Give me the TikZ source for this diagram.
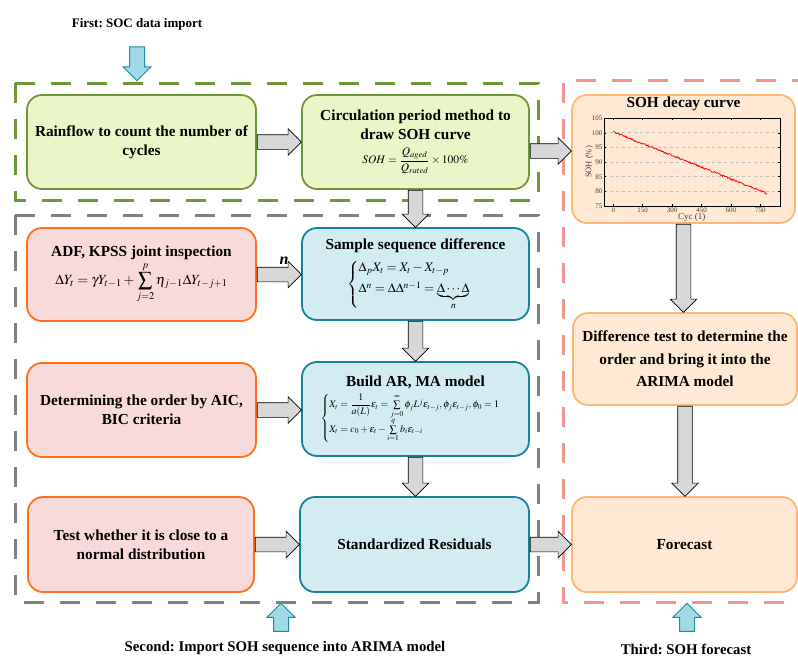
\documentclass[tikz,border=0pt]{standalone}
\usepackage{amsmath}
\usepackage{mathptmx}
\usepackage{fontspec}
\setmainfont{Liberation Serif}
\frenchspacing
\usetikzlibrary{shapes.arrows, calc}
\definecolor{greenfr}{RGB}{112,150,58}
\definecolor{greenbx}{RGB}{234,245,200}
\definecolor{grayfr}{RGB}{128,128,128}
\definecolor{salmonfr}{RGB}{236,152,142}
\definecolor{orangebd}{RGB}{255,112,24}
\definecolor{pinkbx}{RGB}{249,218,218}
\definecolor{tealbd}{RGB}{22,132,152}
\definecolor{bluebx}{RGB}{210,236,242}
\definecolor{peachbd}{RGB}{255,182,112}
\definecolor{peachbx}{RGB}{255,232,212}
\definecolor{flowgray}{RGB}{215,215,215}
\definecolor{cyanfill}{RGB}{160,218,230}
\definecolor{cyanbd}{RGB}{28,140,160}

% block arrows between named boxes
\newcommand{\hflow}[3][0]{\path let \p1=($(#2.east)+(0,#1)$), \p2=(#3.west) in
    node[flow, anchor=tail, minimum height=\x2-\x1] at (\p1) {};}
\newcommand{\vflow}[2]{\path let \p1=(#1.south), \p2=(#2.north) in
    node[flow, rotate=-90, anchor=tail, minimum height=\y1-\y2] at (\p1) {};}

\begin{document}
\begin{tikzpicture}[x=1pt, y=-1pt, font=\fontsize{15.3}{19}\selectfont\bfseries,
        box/.style={rectangle, rounded corners=15pt, line width=1.8pt, align=center, inner sep=3pt},
        greenbox/.style={box, draw=greenfr, fill=greenbx},
        orangebox/.style={box, draw=orangebd, fill=pinkbx},
        bluebox/.style={box, draw=tealbd, fill=bluebx},
        peachbox/.style={box, draw=peachbd, fill=peachbx},
        frame/.style={line width=3pt, dash pattern=on 20pt off 16pt},
        stagelab/.style={font=\fontsize{14.8}{17}\selectfont\bfseries},
        flow/.style={single arrow, draw=black, fill=flowgray, line width=0.7pt, inner xsep=0pt,
                     inner ysep=7pt, single arrow head extend=6pt, single arrow head indent=0pt},
        inflow/.style={single arrow, draw=cyanbd, fill=cyanfill, line width=1pt, inner xsep=0pt,
                       inner ysep=7pt, single arrow head extend=6.5pt, single arrow head indent=0pt},
        ticklab/.style={font=\fontsize{7}{8}\selectfont\mdseries, text=black!75, inner sep=1.5pt},
        gridline/.style={black!25, dashed, line width=0.6pt}
    ]
    \useasboundingbox (0,0) rectangle (798,657);

    % stage frames
    \draw[frame, draw=greenfr] (15,83) rectangle (538,200);
    \draw[frame, draw=grayfr] (15,215) rectangle (538,602);
    \draw[frame, draw=salmonfr] (812,80) -- (563,80) -- (563,602) -- (812,602);

    % stage labels
    \node[stagelab, font=\fontsize{13}{15}\selectfont\bfseries] (first) at (137,24) {First: SOC data import};
    \node[inflow, rotate=-90, minimum height=34pt] (infirst) at (137,60) {};
    \node[stagelab] (second) at (285,648) {Second: Import SOH sequence into ARIMA model};
    \node[inflow, rotate=90, minimum height=28pt] (insecond) at (281,621) {};
    \node[stagelab] (third) at (686,649) {Third: SOH forecast};
    \node[inflow, rotate=90, minimum height=28pt] (inthird) at (687,621) {};

    % boxes
    \node[greenbox, minimum width=229pt, minimum height=94pt] (rain) at (141.5,142)
        {Rainflow to count the number of\\cycles};
    \node[greenbox, minimum width=227pt, minimum height=94pt] (circ) at (415.5,142)
        {Circulation period method to\\draw SOH curve\\[5pt]
         {\fontsize{11.5}{13}\selectfont $SOH=\dfrac{Q_{aged}}{Q_{rated}}\times 100\%$}};
    \node[peachbox, minimum width=223pt, minimum height=128pt] (soh) at (683.5,159) {};
    \node (sohtitle) at (683.5,104) {SOH decay curve};
    \node[orangebox, minimum width=229pt, minimum height=93pt] (adf) at (141.5,274.5)
        {ADF, KPSS joint inspection\\[2pt]
         {\fontsize{14}{16}\selectfont $\displaystyle \Delta Y_t=\gamma Y_{t-1}+\sum_{j=2}^{p}\eta_{j-1}\Delta Y_{t-j+1}$}};
    \node[bluebox, minimum width=227pt, minimum height=92pt] (samp) at (415.5,274)
        {Sample sequence difference\\[6pt]
         {\fontsize{13}{15}\selectfont $\begin{cases}\Delta_p X_t=X_t-X_{t-p}\\[3pt]
          \Delta^n=\Delta\Delta^{n-1}=\underbrace{\Delta\cdots\Delta}_{n}\end{cases}$}};
    \node[peachbox, minimum width=224pt, minimum height=92pt, font=\fontsize{15.3}{22.5}\selectfont\bfseries] (diff) at (685,359)
        {Difference test to determine the\\order and bring it into the\\ARIMA model};
    \node[orangebox, minimum width=229pt, minimum height=94pt] (det) at (141.5,410)
        {Determining the order by AIC,\\BIC criteria};
    \node[bluebox, minimum width=227pt, minimum height=94pt] (build) at (415.5,409)
        {Build AR, MA model\\[4pt]
         {\fontsize{10}{12}\selectfont $\begin{cases}X_t=\dfrac{1}{a(L)}\varepsilon_t=\sum\limits_{j=0}^{\infty}\phi_j L^j\varepsilon_{t-j},\phi_j\varepsilon_{t-j},\phi_0=1\\[5pt]
          X_t=c_0+\varepsilon_t-\sum\limits_{i=1}^{q}b_i\varepsilon_{t-i}\end{cases}$}};
    \node[orangebox, minimum width=226pt, minimum height=95pt] (test) at (141,544.5)
        {Test whether it is close to a\\normal distribution};
    \node[bluebox, minimum width=229pt, minimum height=95pt] (std) at (414.5,544.5)
        {Standardized Residuals};
    \node[peachbox, minimum width=225pt, minimum height=95pt] (fore) at (684.5,544.5)
        {Forecast};

    % SOH decay plot
    \begin{scope}[shift={(613.3,206)}, x=0.196pt, y=2.93pt]
        \foreach \v in {5,10,...,25}
            \draw[gridline] (-47,\v) -- (850,\v);
        \pgfmathsetseed{12}
        \draw[red, line width=0.8pt] plot[domain=0:785, samples=170] (\x,{25.3-0.0268*\x+0.3*rand});
        \draw[line width=0.6pt] (-47,0) rectangle (850,30);
        \foreach \c in {0,150,...,750} {
            \draw[line width=0.5pt] (\c,0) -- ++(0,0.8);
            \draw[line width=0.5pt] (\c,30) -- ++(0,-0.8);
            \node[ticklab, anchor=north] at (\c,0) {\c};
        }
        \foreach \v in {75,80,...,105} {
            \draw[line width=0.5pt] ({-47},{\v-75}) -- ++(12,0);
            \draw[line width=0.5pt] ({850},{\v-75}) -- ++(-12,0);
            \node[ticklab, anchor=east] at ({-47},{\v-75}) {\v};
        }
        \node[font=\fontsize{9}{10}\selectfont\mdseries, text=black!75] (cyclab) at (400,-4) {Cyc (1)};
        \node[font=\fontsize{8.5}{9}\selectfont\mdseries, text=black!75, rotate=90] (sohlab) at (-122,15) {SOH (\%)};
    \end{scope}

    % connectors
    \hflow{rain}{circ}
    \hflow[9]{circ}{soh}
    \hflow{adf}{samp}
    \node[font=\fontsize{16}{16}\selectfont\bfseries\itshape] (nlab) at (284,261) {n};
    \hflow{det}{build}
    \hflow{test}{std}
    \hflow{std}{fore}
    \vflow{circ}{samp}
    \vflow{samp}{build}
    \vflow{build}{std}
    \vflow{soh}{diff}
    \vflow{diff}{fore}
\end{tikzpicture}
\end{document}
